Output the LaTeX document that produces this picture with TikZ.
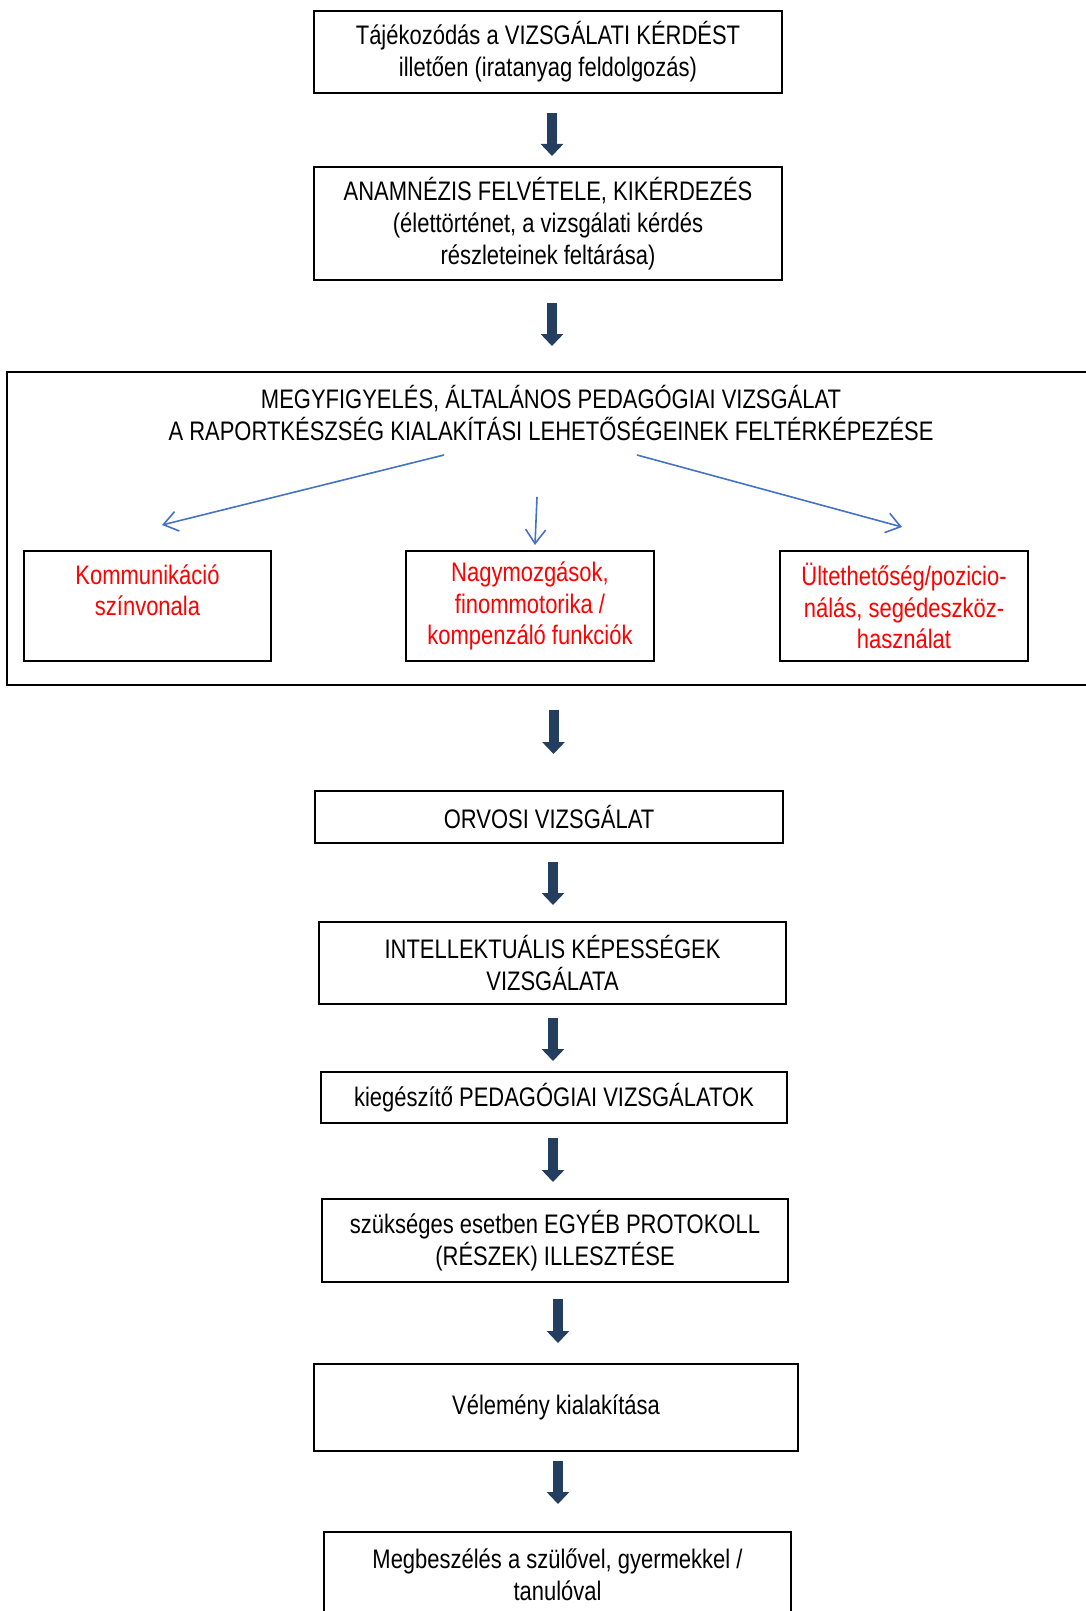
\documentclass[tikz,border=0pt]{standalone}
\usepackage{fontspec}
\setmainfont[FakeStretch=0.82]{Liberation Sans}
\usetikzlibrary{arrows.meta}
\definecolor{navy}{RGB}{36,62,96}
\definecolor{lblue}{RGB}{68,114,196}
\definecolor{redtxt}{RGB}{255,0,0}
\begin{document}
\begin{tikzpicture}[x=0.5pt,y=-0.5pt,
  box/.style={draw=black, line width=1pt, align=center, inner sep=0pt, font=\fontsize{13.4}{15.9}\selectfont},
  redbox/.style={box, text=redtxt},
  plain/.style={align=center, inner sep=0pt, font=\fontsize{13.4}{15.9}\selectfont},
  darrow/.style={draw=navy, line width=5pt, -{Triangle[width=11pt,length=6pt]}},
  barrow/.style={draw=lblue, line width=0.8pt, -{Straight Barb[length=7pt,width=10pt]}}
]
\useasboundingbox (0,0) rectangle (1086,1611);
\clip (0,0) rectangle (1086,1611);

\node[box, minimum width=234pt, minimum height=41pt] (b1) at (548,52)
  {Tájékozódás a VIZSGÁLATI KÉRDÉST\\illetően (iratanyag feldolgozás)};
\node[box, minimum width=234pt, minimum height=56.5pt] (b2) at (548,223.5)
  {ANAMNÉZIS FELVÉTELE, KIKÉRDEZÉS\\(élettörténet, a vizsgálati kérdés\\részleteinek feltárása)};

\node[draw=black, line width=1pt, minimum width=546.5pt, minimum height=156.5pt, inner sep=0pt] (big) at (553.5,528.5) {};
\node[plain] (title) at (551,413)
  {MEGYFIGYELÉS, ÁLTALÁNOS PEDAGÓGIAI VIZSGÁLAT\\A RAPORTKÉSZSÉG KIALAKÍTÁSI LEHETŐSÉGEINEK FELTÉRKÉPEZÉSE};

\node[redbox, minimum width=123.5pt, minimum height=55pt] (ka) at (147.5,606)
  {Kommunikáció\\színvonala\\\mbox{}};
\node[redbox, minimum width=124pt, minimum height=55pt] (kb) at (530,606)
  {Nagymozgások,\\finommotorika /\\kompenzáló funkciók};
\node[redbox, minimum width=124pt, minimum height=55pt] (kc) at (904,606)
  {Ültethetőség/pozicio-\\nálás, segédeszköz-\\használat};

\coordinate (l0) at (444,455);
\coordinate (l1) at (162,525);
\coordinate (m0) at (537,497);
\coordinate (m1) at (535,545);
\coordinate (r0) at (637,455);
\coordinate (r1) at (902,527);
\draw[barrow] (l0) -- (l1);
\draw[barrow] (m0) -- (m1);
\draw[barrow] (r0) -- (r1);

\node[box, minimum width=234pt, minimum height=26pt] (b3) at (549,817) {ORVOSI VIZSGÁLAT};
\node[box, minimum width=233.5pt, minimum height=41pt] (b4) at (552.5,963)
  {INTELLEKTUÁLIS KÉPESSÉGEK\\VIZSGÁLATA};
\node[box, minimum width=233pt, minimum height=25.5pt] (b5) at (554,1097.5)
  {kiegészítő PEDAGÓGIAI VIZSGÁLATOK};
\node[box, minimum width=233pt, minimum height=41.5pt] (b6) at (555,1240.5)
  {szükséges esetben EGYÉB PROTOKOLL\\(RÉSZEK) ILLESZTÉSE};
\node[box, minimum width=242pt, minimum height=43.5pt] (b7) at (556,1407.5)
  {Vélemény kialakítása};
\node[box, minimum width=233.5pt, minimum height=43pt] (b8) at (557.5,1575)
  {Megbeszélés a szülővel, gyermekkel /\\tanulóval};

\draw[darrow] (b1.south) ++(4,19) -- ++(0,43);
\draw[darrow] (b2.south) ++(4,22) -- ++(0,43);
\draw[darrow] (big.south) ++(0,24) -- ++(0,44);
\draw[darrow] (b3.south) ++(4,18) -- ++(0,43);
\draw[darrow] (b4.south) ++(0.5,13) -- ++(0,43);
\draw[darrow] (b5.south) ++(-1,14) -- ++(0,44);
\draw[darrow] (b6.south) ++(3,16) -- ++(0,44);
\draw[darrow] (b7.south) ++(2,9) -- ++(0,43);
\end{tikzpicture}
\end{document}
